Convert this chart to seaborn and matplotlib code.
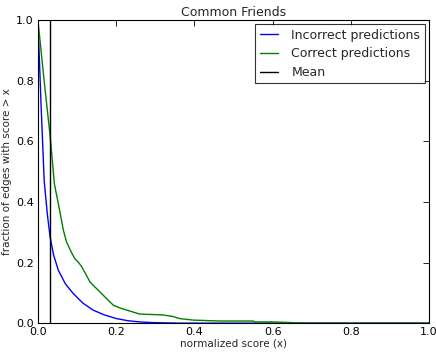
import matplotlib
matplotlib.use("Agg")
import pandas as pd
import matplotlib.pyplot as plt
import seaborn as sns

sns.set_style("white")
plt.rcParams["font.family"] = ["DejaVu Sans"]

# complementary CDF of normalized score
incorrect_x = [0.0, 0.008, 0.016, 0.024, 0.031, 0.04, 0.052, 0.07, 0.09, 0.115,
               0.141, 0.17, 0.201, 0.23, 0.26, 0.29, 0.32, 0.36, 0.4, 1.0]
incorrect_y = [1.0, 0.72, 0.47, 0.36, 0.285, 0.225, 0.175, 0.13, 0.098, 0.066,
               0.043, 0.027, 0.015, 0.008, 0.004, 0.002, 0.001, 0.0, 0.0, 0.0]

correct_x = [0.0, 0.015, 0.031, 0.042, 0.052, 0.065, 0.073, 0.085, 0.094, 0.104,
             0.112, 0.123, 0.133, 0.145, 0.154, 0.167, 0.18, 0.193, 0.21, 0.227,
             0.26, 0.32, 0.345, 0.363, 0.397, 0.465, 0.55, 0.555, 0.6, 0.687, 1.0]
correct_y = [1.0, 0.81, 0.62, 0.46, 0.395, 0.307, 0.268, 0.235, 0.213, 0.2,
             0.186, 0.16, 0.136, 0.12, 0.109, 0.092, 0.075, 0.059, 0.05, 0.043,
             0.030, 0.027, 0.022, 0.015, 0.010, 0.007, 0.007, 0.004, 0.004, 0.0, 0.0]

mean_score = 0.031

fig = plt.figure(figsize=(4.36, 3.52), dpi=100)
ax = fig.add_axes([0.087, 0.082, 0.897, 0.861])

df_inc = pd.DataFrame({"x": incorrect_x, "y": incorrect_y})
df_cor = pd.DataFrame({"x": correct_x, "y": correct_y})

sns.lineplot(data=df_inc, x="x", y="y", ax=ax, color="blue", linewidth=1,
             label="Incorrect predictions", estimator=None)
sns.lineplot(data=df_cor, x="x", y="y", ax=ax, color="green", linewidth=1,
             label="Correct predictions", estimator=None)
ax.axvline(mean_score, color="black", linewidth=1, label="Mean")

ax.set_xlim(0, 1)
ax.set_ylim(0, 1)
ax.set_xticks([0.0, 0.2, 0.4, 0.6, 0.8, 1.0])
ax.set_yticks([0.0, 0.2, 0.4, 0.6, 0.8, 1.0])
ax.tick_params(direction="in", top=True, right=True, length=4, width=0.6,
               labelsize=8, pad=3, colors="black")
for s in ax.spines.values():
    s.set_color("black")
    s.set_linewidth(0.8)

ax.set_title("Common Friends", fontsize=9, pad=3)
ax.set_xlabel("normalized score (x)", fontsize=7.5, labelpad=1)
ax.set_ylabel("fraction of edges with score > x", fontsize=7.5, labelpad=3)

leg = ax.legend(loc="upper right", fontsize=9, frameon=True, fancybox=False,
                edgecolor="black", borderaxespad=0.35, borderpad=0.35,
                handlelength=1.45, handletextpad=1.1, labelspacing=0.45)
leg.get_frame().set_linewidth(0.8)

fig.savefig("out.png", dpi=100)
